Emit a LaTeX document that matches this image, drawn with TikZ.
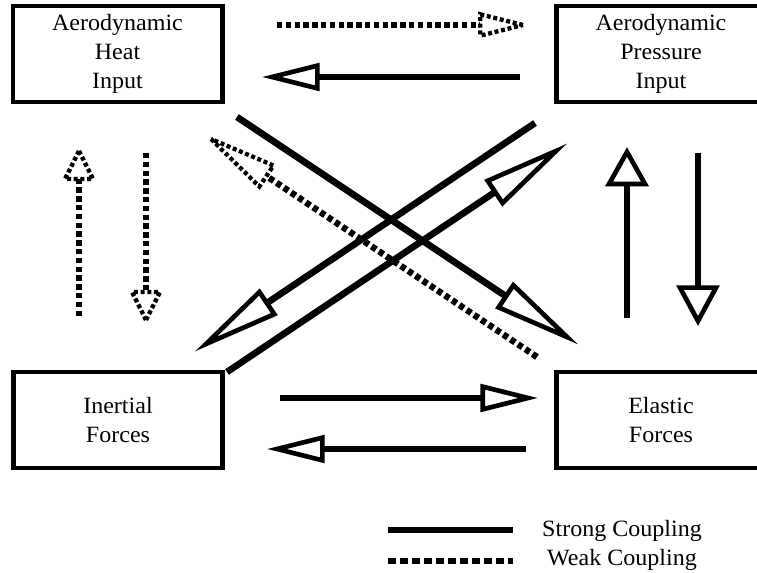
\documentclass[tikz,border=0pt]{standalone}
\usepackage{fontspec}
\setmainfont{Liberation Serif}[FakeStretch=1.03]
\usetikzlibrary{calc}
\tikzset{
  box/.style={draw, line width=3.5pt, minimum width=157pt, minimum height=72pt, inner sep=0pt, align=center, font=\fontsize{17.5pt}{22pt}\selectfont},
  lbl/.style={anchor=base, inner sep=0pt, font=\fontsize{17.5pt}{22pt}\selectfont},
  strong/.style={line width=5pt},
  stronghead/.style={line width=3.5pt, line join=miter, fill=white},
  weak/.style={line width=4.8pt, dash pattern=on 4pt off 2.6pt},
  weakhead/.style={line width=3.2pt, line join=miter, dash pattern=on 3pt off 2pt},
  legweak/.style={line width=4pt, dash pattern=on 6pt off 3pt},
}
\newcommand\strongarrow[4]{%
  \draw[strong] (#1) -- ($(#2)!#3!(#1)$);
  \draw[stronghead] (#2) -- ($(#2)!#3!(#1)!#4!90:(#2)$) -- ($(#2)!#3!(#1)!#4!-90:(#2)$) -- cycle;}
\newcommand\weakarrow[4]{%
  \draw[weak] (#1) -- ($(#2)!#3!(#1)$);
  \draw[weakhead] (#2) -- ($(#2)!#3!(#1)!#4!90:(#2)$) -- ($(#2)!#3!(#1)!#4!-90:(#2)$) -- cycle;}
\begin{document}
\begin{tikzpicture}[x=0.75pt,y=-0.75pt]
\path[use as bounding box] (0,0) rectangle (757,573);
\clip (0,0) rectangle (757,573);
% boxes
\node[box] (heat) at (117.5,54) {Aerodynamic\\Heat\\Input};
\node[box] (press) at (661,54) {Aerodynamic\\Pressure\\Input};
\node[box] (inert) at (118,420) {Inertial\\Forces};
\node[box] (elast) at (661,420) {Elastic\\Forces};
% top arrows
\coordinate (h1s) at (277,25);  \coordinate (h1t) at (523,25);
\coordinate (h2s) at (520,77);  \coordinate (h2t) at (272,77);
\weakarrow{h1s}{h1t}{32pt}{8pt}
\strongarrow{h2s}{h2t}{34pt}{8.5pt}
% left verticals (weak)
\coordinate (v1s) at (79,316);  \coordinate (v1t) at (79,151);
\coordinate (v2s) at (146,153); \coordinate (v2t) at (146,320);
\weakarrow{v1s}{v1t}{21pt}{10.5pt}
\weakarrow{v2s}{v2t}{21pt}{10.5pt}
% right verticals (strong)
\coordinate (v3s) at (627,318); \coordinate (v3t) at (627,152);
\coordinate (v4s) at (698,153); \coordinate (v4t) at (698,321);
\strongarrow{v3s}{v3t}{24pt}{13.5pt}
\strongarrow{v4s}{v4t}{25pt}{13.5pt}
% bottom horizontals
\coordinate (b1s) at (280,398); \coordinate (b1t) at (528,398);
\coordinate (b2s) at (526,449); \coordinate (b2t) at (277,449);
\strongarrow{b1s}{b1t}{34pt}{8.5pt}
\strongarrow{b2s}{b2t}{34pt}{8.5pt}
% diagonals
\coordinate (d1s) at (237,117); \coordinate (d1t) at (567,337);
\coordinate (d2s) at (535,123); \coordinate (d2t) at (206,344);
\coordinate (d3s) at (227,372); \coordinate (d3t) at (556,151);
\coordinate (d4s) at (537,357); \coordinate (d4t) at (211,139);
\weakarrow{d4s}{d4t}{50pt}{9.5pt}
\strongarrow{d1s}{d1t}{55pt}{10pt}
\strongarrow{d2s}{d2t}{55pt}{10pt}
\strongarrow{d3s}{d3t}{55pt}{10pt}
% legend
\coordinate (ls1) at (388,530); \coordinate (ls2) at (513,530);
\coordinate (lw1) at (388,561); \coordinate (lw2) at (513,561);
\draw[line width=4pt] (ls1) -- (ls2);
\draw[legweak] (lw1) -- (lw2);
\node[lbl] (lstrong) at (622,537) {Strong Coupling};
\node[lbl] (lweak) at (622,565) {Weak Coupling};
\end{tikzpicture}
\end{document}
